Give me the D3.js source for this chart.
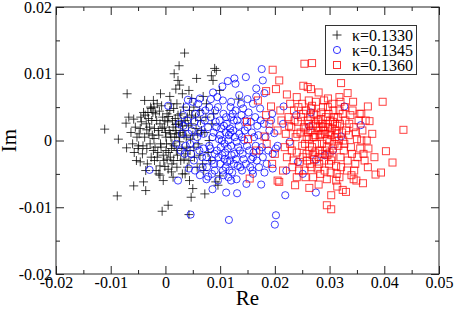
<!DOCTYPE html>
<html>
<head>
<meta charset="utf-8">
<script src="https://cdn.jsdelivr.net/npm/d3@7"></script>
<style>
  body { margin: 0; background: #fff; }
  text { font-family: "Liberation Serif", "Times New Roman", serif; }
</style>
</head>
<body>
<script>
// complex eigenvalues (Re, Im) for three kappa values
var kappas = ["κ=0.1330", "κ=0.1345", "κ=0.1360"];
var xTicks = [-0.02, -0.01, 0, 0.01, 0.02, 0.03, 0.04, 0.05];
var yTicks = [-0.02, -0.01, 0, 0.01, 0.02];

var k1330 = [
  [-0.0111,0.0017],[-0.0088,-0.0083],[-0.0086,0.0002],[-0.0070,0.0070],[-0.0071,-0.0011],[-0.0072,0.0026],
  [-0.0058,-0.0068],[-0.0058,0.0032],[-0.0038,0.0060],[-0.0036,-0.0075],[-0.0040,-0.0062],[-0.0049,-0.0008],
  [-0.0053,-0.0030],[-0.0046,-0.0032],[-0.0006,-0.0106],[0.0005,-0.0097],[0.0035,0.0131],[0.0025,0.0112],
  [0.0016,0.0100],[0.0057,0.0093],[0.0023,0.0090],[0.0026,0.0083],[0.0019,0.0077],[0.0090,0.0108],
  [0.0093,0.0105],[0.0087,0.0090],[0.0084,0.0097],[0.0099,0.0075],[0.0134,0.0062],[-0.0009,0.0070],
  [0.0008,0.0066],[-0.0022,0.0060],[-0.0026,0.0048],[-0.0032,0.0042],[-0.0021,0.0050],[0.0031,0.0070],
  [0.0043,0.0075],[0.0048,0.0063],[0.0069,0.0066],[0.0072,-0.0080],[0.0050,-0.0072],[0.0047,-0.0085],
  [0.0043,-0.0111],[0.0096,-0.0067],[0.0092,-0.0062],[0.0099,-0.0053],[0.0044,-0.0060],[0.0031,-0.0050],
  [0.0014,-0.0055],[-0.0004,-0.0060],[-0.0010,-0.0052],[0.0011,-0.0047],[-0.0001,-0.0039],
  [-0.0045,0.0035],[-0.0040,0.0042],[-0.0035,0.0025],[-0.0030,0.0010],[-0.0028,-0.0005],[-0.0025,0.0030],
  [-0.0022,-0.0015],[-0.0020,0.0018],[-0.0018,0.0040],[-0.0015,-0.0025],[-0.0012,0.0008],[-0.0010,0.0025],
  [-0.0008,-0.0010],[-0.0005,0.0035],[-0.0003,-0.0030],[0.0000,0.0012],[0.0002,-0.0005],[0.0004,0.0028],
  [0.0006,-0.0018],[0.0008,0.0045],[0.0010,0.0005],[0.0012,-0.0035],[0.0014,0.0020],[0.0016,-0.0008],
  [0.0018,0.0033],[0.0020,0.0010],[0.0022,-0.0022],[0.0024,0.0025],[0.0026,-0.0002],[0.0028,0.0040],
  [0.0030,-0.0012],[0.0032,0.0015],[0.0034,-0.0028],[0.0036,0.0030],[0.0038,0.0005],[0.0040,-0.0040],
  [0.0042,0.0022],[0.0045,-0.0015],[0.0048,0.0038],[0.0050,0.0008],[0.0053,-0.0025],[0.0056,0.0018],
  [0.0060,-0.0005],[0.0064,0.0030],[0.0068,-0.0035],[0.0072,0.0012],[0.0078,-0.0018],[0.0085,0.0025],
  [-0.0042,-0.0020],[-0.0038,0.0005],[-0.0033,-0.0035],[-0.0027,0.0050],[-0.0017,-0.0045],[-0.0007,0.0052],
  [0.0003,0.0040],[0.0009,-0.0025],[0.0015,0.0048],[0.0021,-0.0040],[0.0027,0.0012],[0.0033,0.0050],
  [0.0039,-0.0010],[0.0044,0.0045],[-0.0013,0.0015],[-0.0002,0.0020],[0.0007,0.0015],[0.0017,0.0005],
  [-0.0024,0.0008],[-0.0034,0.0016],[-0.0048,0.0010],[-0.0055,0.0020],[-0.0060,-0.0005],[-0.0050,-0.0012],
  [0.0001,-0.0015],[0.0011,-0.0012],[0.0019,0.0024],[0.0029,0.0028],[0.0046,0.0002],[0.0058,-0.0040],
  [0.0062,0.0045],[0.0075,0.0055],[0.0080,0.0000],[-0.0020,-0.0030],[-0.0010,-0.0038],[0.0005,-0.0043],
  [-0.0044,0.0028],[-0.0041,-0.0008],[-0.0037,0.0038],[-0.0034,-0.0012],[-0.0031,0.0033],[-0.0029,0.0020],
  [-0.0026,-0.0025],[-0.0023,0.0042],[-0.0021,0.0003],[-0.0019,-0.0010],[-0.0016,0.0030],[-0.0014,-0.0018],
  [-0.0011,0.0044],[-0.0009,-0.0005],[-0.0006,0.0018],[-0.0004,-0.0022],[-0.0001,0.0030],[0.0001,0.0005],
  [0.0003,-0.0028],[0.0006,0.0036],[0.0009,0.0010],[0.0012,-0.0005],[0.0013,0.0030],[0.0015,-0.0030],
  [0.0018,0.0015],[0.0020,-0.0015],[0.0023,0.0038],[0.0025,0.0005],[0.0028,-0.0030],[0.0031,0.0022],
  [0.0034,0.0008],[0.0037,-0.0020],[0.0040,0.0035],[0.0043,-0.0030],[0.0047,0.0025],[0.0052,-0.0010],
  [0.0055,0.0035],[0.0059,0.0010],[0.0063,-0.0022],[0.0066,0.0015],[0.0070,-0.0045],[0.0074,0.0035],
  [0.0082,-0.0030],[0.0088,0.0040],[-0.0052,0.0005],[-0.0046,0.0018],[-0.0057,-0.0018],[-0.0063,0.0012],
  [-0.0067,0.0035],[-0.0036,-0.0045],[-0.0012,-0.0050],[0.0010,0.0055],[0.0021,0.0055],[-0.0015,0.0055],
  [0.0036,-0.0050],[0.0052,0.0050]
];

var k1345 = [
  [-0.0029,-0.0044],[0.0023,-0.0060],[0.0046,-0.0111],[0.0116,-0.0119],[0.0131,-0.0079],[0.0111,-0.0078],
  [0.0086,-0.0073],[0.0200,-0.0126],[0.0202,-0.0112],[0.0219,-0.0082],[0.0275,-0.0078],[0.0175,-0.0066],
  [0.0176,0.0107],[0.0178,0.0090],[0.0147,0.0095],[0.0126,0.0093],[0.0128,0.0085],[0.0114,0.0089],
  [0.0104,0.0081],[0.0087,0.0072],[0.0083,0.0062],[0.0063,0.0063],[0.0041,0.0061],[0.0005,0.0052],
  [0.0032,0.0038],[0.0166,0.0078],[0.0181,0.0071],[0.0166,0.0066],[0.0327,0.0051],[0.0357,0.0023],
  [0.0216,0.0051],[0.0266,0.0042],[0.0275,-0.0029],[0.0251,-0.0050],[0.0221,-0.0045],[0.0196,-0.0042],
  [0.0242,-0.0032],[0.0291,-0.0022],[0.0306,-0.0015],[0.0321,0.0006],[0.0263,0.0021],[0.0239,0.0038],
  [0.0199,0.0011],[0.0227,-0.0002],[0.0202,-0.0012],[0.0196,-0.0020],[0.0160,-0.0050],[0.0148,-0.0065],
  [0.0172,-0.0015],[0.0160,-0.0025],[0.0120,-0.0060],[0.0096,-0.0060],[0.0078,-0.0054],[0.0063,-0.0052],
  [0.0043,-0.0042],
  [0.0030,0.0010],[0.0035,-0.0020],[0.0040,0.0030],[0.0045,-0.0005],[0.0048,0.0015],[0.0052,-0.0030],
  [0.0055,0.0040],[0.0058,0.0005],[0.0062,-0.0015],[0.0065,0.0025],[0.0068,-0.0040],[0.0070,0.0010],
  [0.0073,0.0045],[0.0075,-0.0025],[0.0078,0.0020],[0.0080,-0.0008],[0.0083,0.0035],[0.0085,-0.0030],
  [0.0088,0.0012],[0.0090,-0.0045],[0.0092,0.0028],[0.0094,-0.0015],[0.0096,0.0050],[0.0098,0.0002],
  [0.0100,-0.0035],[0.0102,0.0018],[0.0104,-0.0022],[0.0106,0.0040],[0.0108,-0.0005],[0.0110,-0.0040],
  [0.0112,0.0025],[0.0114,-0.0012],[0.0116,0.0008],[0.0118,-0.0030],[0.0120,0.0035],[0.0122,-0.0048],
  [0.0124,0.0015],[0.0126,-0.0020],[0.0128,0.0045],[0.0130,-0.0002],[0.0132,-0.0038],[0.0134,0.0022],
  [0.0136,-0.0015],[0.0138,0.0055],[0.0140,0.0005],[0.0143,-0.0028],[0.0146,0.0030],[0.0149,-0.0008],
  [0.0152,0.0042],[0.0155,-0.0040],[0.0158,0.0012],[0.0161,-0.0018],[0.0164,0.0035],[0.0167,-0.0030],
  [0.0170,0.0008],[0.0173,0.0048],[0.0176,-0.0010],[0.0180,0.0025],[0.0185,-0.0035],[0.0190,0.0015],
  [0.0195,0.0040],[0.0205,-0.0008],[0.0215,0.0025],[0.0105,0.0060],[0.0095,0.0065],[0.0120,0.0058],
  [0.0135,0.0068],[0.0150,0.0062],[0.0160,0.0055],[0.0115,-0.0055],[0.0130,-0.0058],[0.0085,-0.0050],
  [0.0075,-0.0058],[0.0060,0.0055],[0.0050,0.0058],[0.0038,0.0050],[0.0028,-0.0015],[0.0025,0.0025],
  [0.0020,-0.0005],[0.0110,0.0012],[0.0100,0.0008],[0.0120,-0.0008],[0.0090,-0.0020],[0.0125,0.0030],
  [0.0140,-0.0045],[0.0145,0.0015],[0.0080,0.0050],[0.0070,-0.0012],[0.0108,-0.0028],[0.0118,0.0018],
  [0.0082,-0.0012],[0.0086,0.0005],[0.0089,-0.0035],[0.0093,0.0020],[0.0097,-0.0025],[0.0099,0.0030],
  [0.0101,-0.0010],[0.0103,0.0000],[0.0105,-0.0045],[0.0107,0.0022],[0.0109,-0.0018],[0.0111,0.0035],
  [0.0113,-0.0032],[0.0115,0.0000],[0.0117,-0.0045],[0.0119,0.0012],[0.0121,-0.0022],[0.0123,0.0040],
  [0.0125,-0.0035],[0.0127,0.0005],[0.0129,-0.0028],[0.0131,0.0030],[0.0133,-0.0010],[0.0135,0.0010],
  [0.0137,-0.0040],[0.0139,0.0038],[0.0141,-0.0020],[0.0144,0.0000],[0.0147,-0.0035],[0.0150,0.0020],
  [0.0153,-0.0015],[0.0156,0.0028],[0.0159,-0.0045],[0.0162,0.0005],[0.0165,-0.0008],[0.0168,0.0022],
  [0.0171,-0.0040],[0.0174,0.0030],[0.0178,-0.0025],[0.0183,0.0005],[0.0188,-0.0015],[0.0193,0.0030],
  [0.0072,0.0030],[0.0067,-0.0025],[0.0063,0.0012],[0.0057,-0.0008],[0.0053,0.0028],[0.0047,-0.0020],
  [0.0042,0.0010],[0.0037,-0.0008],[0.0033,0.0022],[0.0054,-0.0045],[0.0064,0.0042],[0.0076,-0.0040],
  [0.0091,0.0045],[0.0106,-0.0052],[0.0119,0.0050],[0.0142,0.0048],[0.0157,-0.0028],[0.0181,-0.0048]
];

var k1360 = [
  [0.0254,0.0115],[0.0268,0.0116],[0.0196,0.0106],[0.0208,0.0090],[0.0184,0.0074],[0.0202,0.0077],
  [0.0222,0.0069],[0.0240,0.0065],[0.0252,0.0082],[0.0260,0.0080],[0.0266,0.0077],[0.0280,0.0072],
  [0.0321,0.0086],[0.0333,0.0071],[0.0297,0.0063],[0.0318,0.0065],[0.0169,0.0060],[0.0397,0.0058],
  [0.0435,0.0016],[0.0403,-0.0016],[0.0415,-0.0033],[0.0394,-0.0048],[0.0384,-0.0051],[0.0370,0.0051],
  [0.0373,0.0029],[0.0358,0.0040],[0.0343,0.0058],[0.0295,-0.0097],[0.0303,-0.0103],[0.0303,-0.0082],
  [0.0330,-0.0077],[0.0324,-0.0074],[0.0361,-0.0064],[0.0349,-0.0060],[0.0370,-0.0040],[0.0314,-0.0069],
  [0.0280,-0.0066],[0.0263,-0.0071],[0.0237,-0.0067],[0.0208,-0.0062],[0.0205,-0.0060],[0.0154,-0.0057],
  [0.0151,0.0002],[0.0149,0.0028],[0.0166,-0.0015],[0.0181,0.0006],[0.0184,0.0038],[0.0193,0.0051],
  [0.0220,0.0010],[0.0222,-0.0025],[0.0225,0.0035],[0.0228,-0.0005],[0.0230,0.0020],[0.0232,-0.0040],
  [0.0235,0.0045],[0.0238,0.0005],[0.0240,-0.0018],[0.0242,0.0028],[0.0245,-0.0032],[0.0247,0.0012],
  [0.0250,-0.0008],[0.0252,0.0040],[0.0254,-0.0045],[0.0256,0.0018],[0.0258,-0.0020],[0.0260,0.0030],
  [0.0262,0.0002],[0.0264,-0.0035],[0.0266,0.0048],[0.0268,-0.0010],[0.0270,0.0022],[0.0272,-0.0028],
  [0.0274,0.0008],[0.0276,0.0038],[0.0278,-0.0042],[0.0280,0.0015],[0.0282,-0.0015],[0.0284,0.0032],
  [0.0286,-0.0005],[0.0288,0.0050],[0.0290,-0.0030],[0.0292,0.0010],[0.0294,0.0025],[0.0296,-0.0022],
  [0.0298,0.0040],[0.0300,0.0000],[0.0302,-0.0048],[0.0304,0.0018],[0.0306,-0.0012],[0.0308,0.0035],
  [0.0310,0.0005],[0.0312,-0.0038],[0.0314,0.0022],[0.0316,-0.0008],[0.0318,0.0045],[0.0320,-0.0025],
  [0.0323,0.0012],[0.0326,-0.0015],[0.0329,0.0030],[0.0332,-0.0045],[0.0335,0.0008],[0.0338,0.0038],
  [0.0341,-0.0020],[0.0344,0.0020],[0.0347,-0.0035],[0.0350,0.0002],[0.0353,0.0030],[0.0356,-0.0012],
  [0.0360,0.0015],[0.0364,-0.0030],[0.0368,0.0000],[0.0215,-0.0045],[0.0210,0.0045],[0.0205,0.0015],
  [0.0200,-0.0020],[0.0195,-0.0035],[0.0190,0.0025],[0.0185,-0.0005],[0.0262,0.0060],[0.0275,0.0058],
  [0.0290,0.0060],[0.0305,0.0055],[0.0320,0.0058],[0.0250,0.0055],[0.0240,-0.0055],[0.0270,-0.0055],
  [0.0295,-0.0058],[0.0318,-0.0055],[0.0340,-0.0052],[0.0272,0.0005],[0.0285,0.0010],[0.0300,0.0012],
  [0.0295,0.0002],[0.0280,-0.0025],[0.0265,0.0015],[0.0310,0.0025],[0.0325,0.0000],[0.0258,0.0005],
  [0.0288,0.0020],[0.0303,-0.0030],
  [0.0226,0.0022],[0.0231,-0.0015],[0.0236,0.0030],[0.0241,0.0010],[0.0244,-0.0045],[0.0248,0.0035],
  [0.0251,-0.0025],[0.0253,0.0020],[0.0255,-0.0005],[0.0257,0.0045],[0.0259,-0.0030],[0.0261,0.0012],
  [0.0263,-0.0015],[0.0265,0.0035],[0.0267,-0.0040],[0.0269,0.0005],[0.0271,0.0040],[0.0273,-0.0018],
  [0.0275,0.0025],[0.0277,-0.0005],[0.0279,0.0030],[0.0281,-0.0035],[0.0283,0.0008],[0.0285,0.0042],
  [0.0287,-0.0020],[0.0289,0.0015],[0.0291,-0.0045],[0.0293,0.0035],[0.0295,-0.0010],[0.0297,0.0020],
  [0.0299,-0.0035],[0.0301,0.0030],[0.0303,0.0008],[0.0305,-0.0025],[0.0307,0.0045],[0.0309,-0.0005],
  [0.0311,0.0015],[0.0313,-0.0050],[0.0315,0.0035],[0.0317,0.0000],[0.0319,0.0025],[0.0321,-0.0040],
  [0.0324,0.0040],[0.0327,-0.0005],[0.0330,0.0015],[0.0333,-0.0030],[0.0336,0.0025],[0.0339,-0.0010],
  [0.0342,0.0045],[0.0345,-0.0045],[0.0348,0.0012],[0.0351,-0.0025],[0.0355,0.0040],[0.0358,0.0000],
  [0.0362,-0.0020],[0.0366,0.0030],[0.0371,-0.0012],[0.0378,0.0010],[0.0382,-0.0025],[0.0234,-0.0030],
  [0.0243,0.0050],[0.0256,-0.0055],[0.0268,0.0052],[0.0283,-0.0050],[0.0297,0.0050],[0.0312,-0.0060],
  [0.0328,0.0050],[0.0344,-0.0058],[0.0228,0.0055],[0.0218,-0.0010],[0.0212,0.0030],[0.0286,0.0025],
  [0.0292,-0.0015],[0.0278,0.0020],[0.0300,-0.0018],[0.0306,0.0028],[0.0269,-0.0022],[0.0262,0.0025],
  [0.0314,0.0010]
];

var W = 454, H = 309;
var mLeft = 56, mRight = 439, mTop = 7, mBottom = 274;

var svg = d3.select('body').append('svg')
    .attr('width', W)
    .attr('height', H);

var x = d3.scaleLinear().domain([-0.02, 0.05]).range([mLeft, mRight]);
var y = d3.scaleLinear().domain([-0.02, 0.02]).range([mBottom, mTop]);

function fmt(d) {
    if (Math.abs(d) < 1e-12) return '0';
    return d.toFixed(2);
}

// minor ticks halfway between majors
var xMinor = d3.range(-0.015, 0.05, 0.01);
var yMinor = d3.range(-0.015, 0.02, 0.01);

function drawAxis(gen, tx, ty, vals, size, labels) {
    var g = svg.append('g')
        .attr('transform', 'translate(' + tx + ',' + ty + ')')
        .call(gen.tickValues(vals).tickSize(size).tickFormat(labels ? fmt : ''));
    g.select('.domain').remove();
    g.selectAll('line').attr('stroke', '#222').attr('stroke-width', 1);
    g.selectAll('text')
        .attr('fill', '#000')
        .style('font-family', '"Liberation Serif", serif')
        .style('font-size', '16px');
    return g;
}

// bottom & top
var gb = drawAxis(d3.axisBottom(x), 0, mBottom, xTicks, -8, true);
gb.selectAll('text').attr('y', 3).attr('dy', '0.71em');
drawAxis(d3.axisBottom(x), 0, mBottom, xMinor, -4, false);
drawAxis(d3.axisTop(x), 0, mTop, xTicks, -8, false);
drawAxis(d3.axisTop(x), 0, mTop, xMinor, -4, false);

// left & right
var gl = drawAxis(d3.axisLeft(y), mLeft, 0, yTicks, -8, true);
gl.selectAll('text').attr('x', -4);
drawAxis(d3.axisLeft(y), mLeft, 0, yMinor, -4, false);
drawAxis(d3.axisRight(y), mRight, 0, yTicks, -8, false);
drawAxis(d3.axisRight(y), mRight, 0, yMinor, -4, false);

// frame
svg.append('rect')
    .attr('x', mLeft).attr('y', mTop)
    .attr('width', mRight - mLeft).attr('height', mBottom - mTop)
    .attr('fill', 'none')
    .attr('stroke', '#222')
    .attr('stroke-width', 1);

var plot = svg.append('g');

// plus markers
plot.append('g').selectAll('path').data(k1330).enter().append('path')
    .attr('d', function(d) {
        var px = x(d[0]), py = y(d[1]);
        return 'M' + (px - 4.5) + ',' + py + 'H' + (px + 4.5) + 'M' + px + ',' + (py - 4.5) + 'V' + (py + 4.5);
    })
    .attr('stroke', '#000')
    .attr('stroke-opacity', 0.75)
    .attr('stroke-width', 1)
    .attr('fill', 'none');

// circles
plot.append('g').selectAll('circle').data(k1345).enter().append('circle')
    .attr('cx', function(d) { return x(d[0]); })
    .attr('cy', function(d) { return y(d[1]); })
    .attr('r', 3.6)
    .attr('fill', 'none')
    .attr('stroke', '#0000ff')
    .attr('stroke-opacity', 0.75)
    .attr('stroke-width', 1);

// squares
plot.append('g').selectAll('rect').data(k1360).enter().append('rect')
    .attr('x', function(d) { return x(d[0]) - 3.5; })
    .attr('y', function(d) { return y(d[1]) - 3.5; })
    .attr('width', 7)
    .attr('height', 7)
    .attr('fill', 'none')
    .attr('stroke', '#ff0000')
    .attr('stroke-opacity', 0.75)
    .attr('stroke-width', 1);

// axis titles
svg.append('text')
    .attr('x', (mLeft + mRight) / 2)
    .attr('y', 305)
    .attr('text-anchor', 'middle')
    .style('font-size', '21px')
    .text('Re');

svg.append('text')
    .attr('transform', 'translate(16,' + y(0) + ') rotate(-90)')
    .attr('text-anchor', 'middle')
    .style('font-size', '21px')
    .text('Im');

// legend
var legend = svg.append('g');
legend.append('rect')
    .attr('x', 325.5).attr('y', 25.5)
    .attr('width', 91).attr('height', 49)
    .attr('fill', '#fff')
    .attr('stroke', '#333')
    .attr('stroke-width', 1);

var rows = legend.selectAll('g.row').data(kappas).enter().append('g')
    .attr('transform', function(d, i) { return 'translate(337,' + (35 + i * 15) + ')'; });

rows.filter(function(d, i) { return i === 0; }).append('path')
    .attr('d', 'M-4.5,0H4.5M0,-4.5V4.5')
    .attr('stroke', '#000').attr('stroke-opacity', 0.8);
rows.filter(function(d, i) { return i === 1; }).append('circle')
    .attr('r', 3.6).attr('fill', 'none').attr('stroke', '#0000ff').attr('stroke-opacity', 0.8);
rows.filter(function(d, i) { return i === 2; }).append('rect')
    .attr('x', -3.5).attr('y', -3.5).attr('width', 7).attr('height', 7)
    .attr('fill', 'none').attr('stroke', '#ff0000').attr('stroke-opacity', 0.8);

rows.append('text')
    .attr('x', 15)
    .attr('y', 5.5)
    .style('font-size', '16px')
    .text(function(d) { return d; });
</script>
</body>
</html>
